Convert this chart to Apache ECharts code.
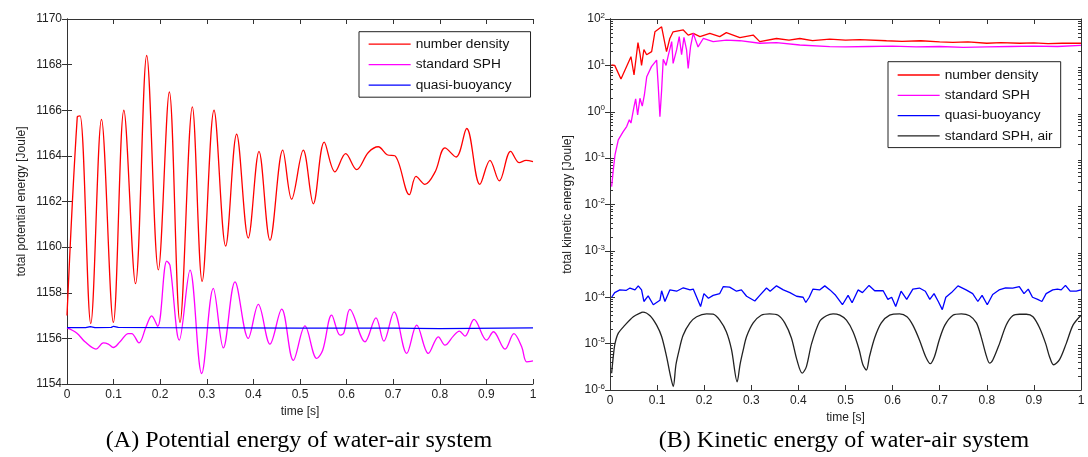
<!DOCTYPE html>
<html><head><meta charset="utf-8">
<script src="https://cdn.jsdelivr.net/npm/echarts@6/dist/echarts.min.js"></script>
<style>html,body{margin:0;padding:0;background:#fff}#c{width:1088px;height:457px}</style>
</head><body><div id="c"></div>
<script>
// ---------- data ----------
const legendLeft = ['number density', 'standard SPH', 'quasi-buoyancy'];
const legendRight = ['number density', 'standard SPH', 'quasi-buoyancy', 'standard SPH, air'];
const captionA = '(A) Potential energy of water-air system';
const captionB = '(B) Kinetic energy of water-air system';
const logMajorTicks = [1e-6, 1e-5, 1e-4, 1e-3, 1e-2, 1e-1, 1, 10, 100];
const logMinorMultipliers = [2, 3, 4, 5, 6, 7, 8, 9];

// (A) potential energy [time s, Joule]
const potNumberDensity = [
 [0,1157.0],[0.022,1165.7],[0.028,1165.75],[0.051,1156.65],[0.074,1165.6],[0.0995,1156.7],
 [0.122,1166.0],[0.147,1158.4],[0.171,1168.4],[0.196,1159.0],[0.2196,1166.8],[0.2425,1156.7],
 [0.269,1166.15],[0.290,1158.5],[0.3155,1166.0],[0.3405,1160.05],[0.364,1164.95],[0.389,1160.4],
 [0.412,1164.2],[0.4356,1160.3],[0.463,1164.25],[0.482,1162.1],[0.507,1164.25],[0.5286,1161.9],
 [0.552,1164.6],[0.575,1163.3],[0.598,1164.1],[0.6216,1163.4],[0.6466,1164.15],[0.668,1164.4],
 [0.687,1164.05],[0.704,1164.0],[0.7346,1162.3],[0.749,1163.1],[0.768,1162.75],[0.79,1163.3],
 [0.811,1164.35],[0.835,1163.95],[0.8577,1165.2],[0.886,1162.75],[0.9077,1163.8],[0.9277,1162.9],
 [0.952,1164.2],[0.9707,1163.7],[0.985,1163.8],[1.0,1163.75]
];
const potStandardSPH = [
 [0,1156.46],[0.0207,1156.24],[0.0386,1155.85],[0.0622,1155.53],[0.078,1155.8],[0.0887,1155.75],
 [0.0994,1155.6],[0.1137,1155.85],[0.1316,1156.21],[0.1388,1156.21],[0.1545,1155.8],[0.1695,1156.5],
 [0.1817,1156.99],[0.1946,1156.53],[0.214,1159.39],[0.221,1159.2],[0.241,1155.92],[0.264,1158.99],
 [0.289,1154.46],[0.314,1158.19],[0.3355,1155.58],[0.3605,1158.48],[0.389,1156.0],[0.4106,1157.49],
 [0.4356,1155.75],[0.4607,1157.28],[0.4857,1155.04],[0.5107,1156.55],[0.536,1155.12],[0.5487,1155.48],
 [0.568,1157.02],[0.586,1156.14],[0.594,1156.24],[0.607,1157.27],[0.6395,1155.85],[0.663,1156.9],
 [0.680,1155.88],[0.702,1157.16],[0.729,1155.34],[0.7504,1156.58],[0.7754,1155.34],[0.797,1156.07],
 [0.811,1155.7],[0.829,1156.1],[0.842,1156.32],[0.854,1156.1],[0.8734,1156.83],[0.9006,1155.92],
 [0.915,1156.29],[0.94,1155.53],[0.959,1156.21],[0.9757,1155.63],[0.9864,1154.97],[1.0,1155.01]
];
const potQuasiBuoyancy = [
 [0,1156.47],[0.04,1156.47],[0.05,1156.52],[0.06,1156.47],[0.095,1156.48],[0.1,1156.53],[0.11,1156.48],
 [0.2,1156.47],[0.5,1156.45],[0.7,1156.45],[0.8,1156.43],[1.0,1156.46]
];

// (B) kinetic energy [time s, Joule]
const kinNumberDensity = [
 [0.003,10.2],[0.01,10],[0.0233,5.1],[0.0445,15.4],[0.051,6.2],[0.0594,31],[0.0636,18],[0.067,10],
 [0.072,22],[0.0778,17],[0.0884,19.8],[0.0954,53],[0.1096,68],[0.113,70],[0.120,19.8],[0.127,38],
 [0.134,53],[0.1556,58],[0.166,45],[0.1767,49],[0.191,41.6],[0.212,49],[0.233,41.6],[0.247,50.7],
 [0.2757,39.5],[0.304,45],[0.318,32.5],[0.3535,38],[0.38,35],[0.403,38],[0.43,34],[0.4666,37],
 [0.5,35],[0.53,36],[0.587,34],[0.62,33],[0.66,34],[0.7,32],[0.728,31.4],[0.76,32],[0.8,30],
 [0.83,31],[0.87,30],[0.9,30.5],[0.93,29.5],[0.96,30],[1.0,30]
];
const kinStandardSPH = [
 [0.0035,0.0243],[0.007,0.0557],[0.0106,0.117],[0.0176,0.247],[0.028,0.373],[0.0354,0.48],[0.041,0.67],
 [0.0445,0.57],[0.051,1.29],[0.0545,1.89],[0.0587,0.85],[0.0636,1.95],[0.0685,1.32],[0.073,2.3],
 [0.078,5.7],[0.088,9.4],[0.099,13],[0.1025,3.5],[0.106,0.78],[0.1096,2.9],[0.113,13.5],[0.119,10],
 [0.124,16.8],[0.131,32.5],[0.134,11],[0.1414,21.5],[0.147,41.6],[0.152,17],[0.157,40],[0.1626,21.5],
 [0.166,8.6],[0.171,25.3],[0.1767,49],[0.187,25],[0.198,38],[0.219,32.5],[0.247,35],[0.2757,34],
 [0.318,30],[0.3535,31],[0.403,27.5],[0.4666,25.3],[0.5,25],[0.55,25.5],[0.6,26],[0.65,25],
 [0.7,25.5],[0.75,24.5],[0.8,25],[0.85,25.5],[0.9,26],[0.95,25.5],[1.0,27]
];
const kinQuasiBuoyancy = [
 [0.0035,1.0e-4],[0.01,1.26e-4],[0.021,1.44e-4],[0.034,1.4e-4],[0.0424,1.58e-4],[0.053,1.44e-4],
 [0.06,1.76e-4],[0.067,1.44e-4],[0.072,8.1e-5],[0.081,1.07e-4],[0.0919,6.9e-5],[0.106,8.6e-5],
 [0.1096,1.38e-4],[0.1166,8.1e-5],[0.127,1.44e-4],[0.1414,1.35e-4],[0.1556,1.6e-4],[0.17,1.44e-4],
 [0.1767,1.5e-4],[0.184,1.0e-4],[0.1923,6.3e-5],[0.1994,1.2e-4],[0.209,9.5e-5],[0.219,1.1e-4],
 [0.233,1.2e-4],[0.2406,1.7e-4],[0.254,1.65e-4],[0.2686,1.35e-4],[0.279,1.44e-4],[0.29,1.05e-4],
 [0.3075,8.3e-5],[0.318,1.1e-4],[0.3323,1.58e-4],[0.34,1.35e-4],[0.3535,1.76e-4],[0.368,1.44e-4],
 [0.382,1.26e-4],[0.396,1.05e-4],[0.41,1.0e-4],[0.4157,7.7e-5],[0.423,1.0e-4],[0.431,1.5e-4],
 [0.445,1.44e-4],[0.456,1.76e-4],[0.467,1.44e-4],[0.479,1.1e-4],[0.4935,6.9e-5],[0.5055,1.1e-4],
 [0.514,7.6e-5],[0.5267,1.44e-4],[0.536,1.26e-4],[0.55,1.8e-4],[0.562,1.38e-4],[0.58,1.38e-4],
 [0.59,9e-5],[0.598,1.0e-4],[0.6066,6.3e-5],[0.618,1.35e-4],[0.63,9e-5],[0.643,1.5e-4],[0.657,1.58e-4],
 [0.6695,1.35e-4],[0.679,9e-5],[0.688,1.2e-4],[0.697,8.1e-5],[0.7055,5.4e-5],[0.713,1.0e-4],
 [0.725,1.26e-4],[0.7388,1.76e-4],[0.756,1.44e-4],[0.77,1.2e-4],[0.781,8.1e-5],[0.79,1.1e-4],
 [0.801,6.9e-5],[0.8125,1.15e-4],[0.826,1.44e-4],[0.84,1.6e-4],[0.855,1.58e-4],[0.869,1.7e-4],
 [0.879,1.2e-4],[0.888,1.5e-4],[0.897,1.0e-4],[0.908,9e-5],[0.917,8.1e-5],[0.926,1.2e-4],
 [0.94,1.44e-4],[0.95,1.5e-4],[0.958,1.44e-4],[0.967,1.8e-4],[0.977,1.35e-4],[0.99,1.35e-4],[1.0,1.44e-4]
];
const kinStandardSPHAir = [
 [0.0035,2.3e-6],[0.007,5.3e-6],[0.0106,1.0e-5],[0.0177,1.68e-5],[0.0318,2.5e-5],[0.0495,3.8e-5],
 [0.067,4.7e-5],[0.07,4.8e-5],[0.085,4.0e-5],[0.099,2.5e-5],[0.1096,1.42e-5],[0.12,5.3e-6],
 [0.1287,1.95e-6],[0.1343,1.19e-6],[0.14,3.5e-6],[0.147,7.4e-6],[0.155,1.5e-5],[0.1697,2.8e-5],
 [0.184,3.8e-5],[0.205,4.4e-5],[0.219,4.3e-5],[0.233,3.2e-5],[0.247,1.8e-5],[0.258,7.4e-6],
 [0.27,1.5e-6],[0.276,3.5e-6],[0.283,7.4e-6],[0.29,1.42e-5],[0.304,2.8e-5],[0.321,4.1e-5],
 [0.339,4.4e-5],[0.357,4.1e-5],[0.371,2.8e-5],[0.385,1.34e-5],[0.397,4.4e-6],[0.408,2.3e-6],
 [0.417,3.2e-6],[0.428,1.0e-5],[0.445,3.0e-5],[0.4596,4.0e-5],[0.4737,4.4e-5],[0.488,4.1e-5],
 [0.502,3.2e-5],[0.516,1.8e-5],[0.529,7.4e-6],[0.537,3.5e-6],[0.5444,2.7e-6],[0.551,5.3e-6],
 [0.562,1.34e-5],[0.576,2.8e-5],[0.5938,4.1e-5],[0.615,4.4e-5],[0.6305,3.8e-5],[0.643,2.5e-5],
 [0.657,1.2e-5],[0.67,5.3e-6],[0.68,3.7e-6],[0.689,5.3e-6],[0.699,1.2e-5],[0.711,2.5e-5],
 [0.728,4.1e-5],[0.746,4.4e-5],[0.7635,4.0e-5],[0.778,2.8e-5],[0.788,1.4e-5],[0.7994,5.3e-6],
 [0.806,3.8e-6],[0.813,4.5e-6],[0.827,1.0e-5],[0.841,2.5e-5],[0.855,4.0e-5],[0.8696,4.3e-5],
 [0.884,4.3e-5],[0.898,3.8e-5],[0.912,2.2e-5],[0.925,1.0e-5],[0.933,5.3e-6],[0.9417,3.5e-6],
 [0.9544,4.5e-6],[0.9686,1.0e-5],[0.983,2.5e-5],[1.0,4.1e-5]
];

// ---------- chart ----------
const SANS = 'Liberation Sans, Arial, sans-serif';
const AX = '#333';
const logMinorTicks = [];
for (let e = -6; e < 2; e++) for (const m of logMinorMultipliers) logMinorTicks.push(m * Math.pow(10, e));

// ticks point into the plot box (negative length flips them inwards)
function tick(len) { return {show: true, inside: false, length: -len, lineStyle: {color: AX}}; }

function xAx(grid, pos, labels, name, gap) {
  return {
    type: 'value', gridIndex: grid, position: pos, min: 0, max: 1, interval: 0.1,
    axisLine: {show: true, lineStyle: {color: AX, width: 1}}, splitLine: {show: false},
    axisTick: tick(5),
    axisLabel: {show: labels, margin: 5, color: '#222', fontSize: 12, fontFamily: SANS,
      formatter: v => String(Math.round(v * 10) / 10)},
    name: name || '', nameLocation: 'middle', nameGap: gap || 0,
    nameTextStyle: {color: '#222', fontSize: 12, fontFamily: SANS}
  };
}
function linY(pos, labels, name) {
  return {
    type: 'value', gridIndex: 0, position: pos, min: 1154, max: 1170, interval: 2,
    axisLine: {show: true, lineStyle: {color: AX, width: 1}}, splitLine: {show: false},
    axisTick: tick(5),
    axisLabel: {show: labels, margin: 5, color: '#222', fontSize: 12, fontFamily: SANS,
      formatter: v => String(v)},
    name: name || '', nameLocation: 'middle', nameGap: 39,
    nameTextStyle: {color: '#222', fontSize: 12, fontFamily: SANS}
  };
}
function logY(pos, labels, minor, name) {
  const t = tick(minor ? 3 : 5);
  t.customValues = minor ? logMinorTicks : logMajorTicks;
  return {
    type: 'log', logBase: 10, gridIndex: 1, position: pos, min: 1e-6, max: 100,
    axisLine: {show: true, lineStyle: {color: AX, width: 1}}, splitLine: {show: false}, minorTick: {show: false},
    axisTick: t,
    axisLabel: {show: labels, margin: 5, customValues: logMajorTicks,
      formatter: v => '{b|10}{s|' + Math.round(Math.log10(v)) + '}',
      rich: {b: {fontSize: 12, fontFamily: SANS, color: '#222'},
             s: {fontSize: 8, fontFamily: SANS, color: '#222', verticalAlign: 'bottom', padding: [0, 0, 7, 0]}}},
    name: name || '', nameLocation: 'middle', nameGap: 36,
    nameTextStyle: {color: '#222', fontSize: 12, fontFamily: SANS}
  };
}
function line(name, data, color, xi, yi, smooth) {
  return {type: 'line', name, data, xAxisIndex: xi, yAxisIndex: yi, symbol: 'none', showSymbol: false,
    smooth: smooth, animation: false, lineStyle: {color, width: 1.3}, itemStyle: {color}};
}
function legend(data, left, top, gap, pad) {
  return {data, left, top, orient: 'vertical', itemWidth: 42, itemHeight: 14, itemGap: gap,
    padding: pad, borderColor: '#222', borderWidth: 1, backgroundColor: '#fff', selectedMode: false,
    itemStyle: {opacity: 0, borderWidth: 0},
    lineStyle: {width: 1.3, opacity: 1},
    textStyle: {fontSize: 13.7, fontFamily: SANS, color: '#111'}};
}

const chart = echarts.init(document.getElementById('c'), null, {renderer: 'canvas'});
chart.setOption({
  backgroundColor: '#fff',
  animation: false,
  title: [
    {text: captionA, left: 299, top: 429, textAlign: 'center', padding: 0,
     textStyle: {fontFamily: 'Liberation Serif, Times New Roman, serif', fontSize: 24, fontWeight: 'normal', color: '#000'}},
    {text: captionB, left: 844, top: 429, textAlign: 'center', padding: 0,
     textStyle: {fontFamily: 'Liberation Serif, Times New Roman, serif', fontSize: 24, fontWeight: 'normal', color: '#000'}}
  ],
  grid: [
    {left: 67, top: 19, width: 466, height: 365, show: false},
    {left: 610, top: 19, width: 471, height: 371, show: false}
  ],
  xAxis: [
    xAx(0, 'bottom', true, 'time [s]', 19),
    xAx(0, 'top', false),
    xAx(1, 'bottom', true, 'time [s]', 18),
    xAx(1, 'top', false)
  ],
  yAxis: [
    linY('left', true, 'total potential energy [Joule]'),
    linY('right', false),
    logY('left', true, false, 'total kinetic energy [Joule]'),
    logY('right', false, false),
    logY('left', false, true),
    logY('right', false, true)
  ],
  legend: [
    legend(legendLeft, 359, 31.7, 6.5, [5.5, 19, 5, 9]),
    legend(legendRight, 888, 61.7, 6.3, [6.3, 8, 4.7, 9])
  ],
  series: [
    line(legendLeft[0], potNumberDensity, '#ff0000', 0, 0, 0.35),
    line(legendLeft[1], potStandardSPH, '#ff00ff', 0, 0, 0.35),
    line(legendLeft[2], potQuasiBuoyancy, '#0000ff', 0, 0, false),
    line(legendRight[0], kinNumberDensity, '#ff0000', 2, 2, false),
    line(legendRight[1], kinStandardSPH, '#ff00ff', 2, 2, false),
    line(legendRight[2], kinQuasiBuoyancy, '#0000ff', 2, 2, false),
    line(legendRight[3], kinStandardSPHAir, '#222222', 2, 2, 0.3)
  ]
});
</script></body></html>
